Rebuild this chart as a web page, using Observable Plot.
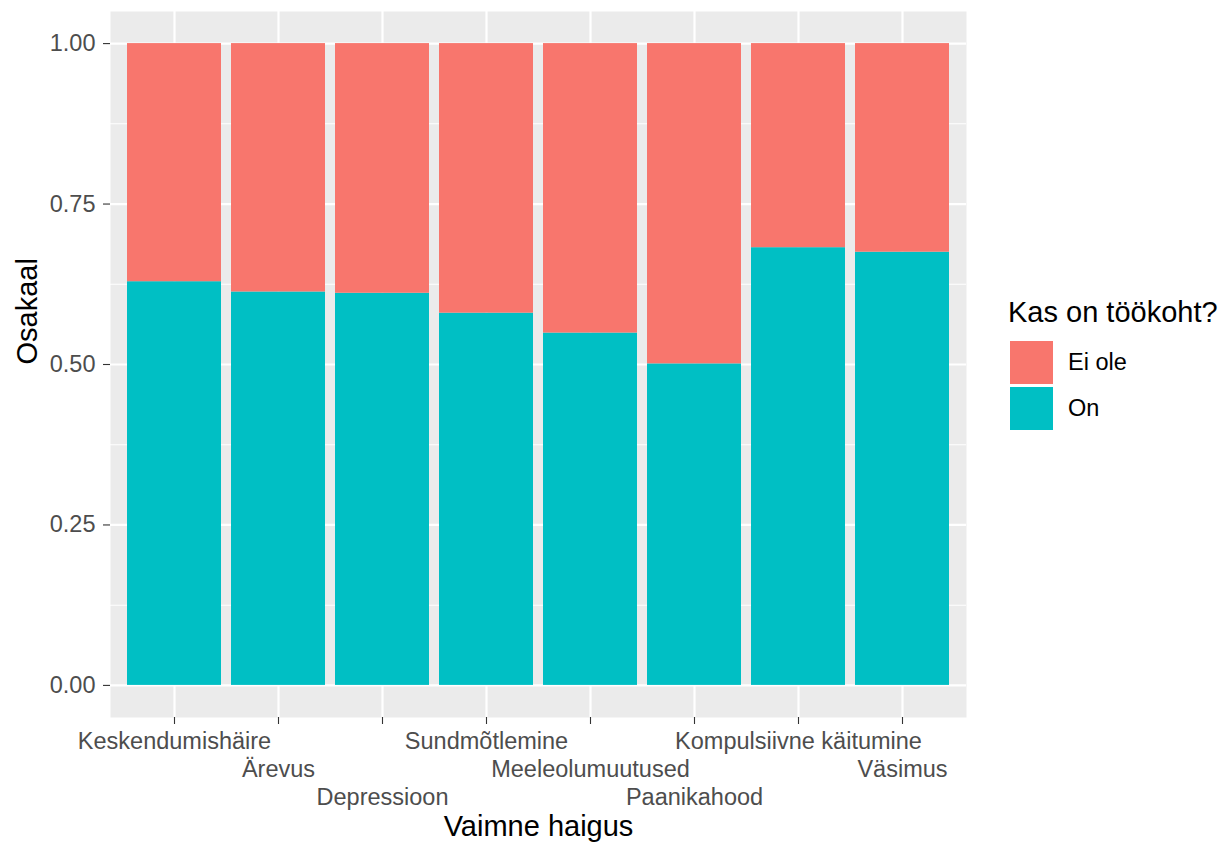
<!DOCTYPE html>
<html>
<head>
<meta charset="utf-8">
<script src="https://cdn.jsdelivr.net/npm/d3@7"></script>
<script src="https://cdn.jsdelivr.net/npm/@observablehq/plot@0.6"></script>
<style>
  body { margin: 0; background: #fff; font-family: "Liberation Sans", Arial, Helvetica, sans-serif; }
  #wrap { position: relative; width: 1224px; height: 845px; }
  #legend { position: absolute; left: 1008px; top: 295px; color: #000; }
  #legend .title { font-size: 29px; line-height: 34px; white-space: nowrap; }
  #legend .row { position: absolute; left: 0; display: flex; align-items: center; }
  #legend .key { width: 43px; height: 43px; margin-left: 2px; }
  #legend .lab { font-size: 23.5px; margin-left: 15px; white-space: nowrap; }
</style>
</head>
<body>
<div id="wrap"></div>
<script>
const categories = ["Keskendumishäire", "Ärevus", "Depressioon", "Sundmõtlemine", "Meeleolumuutused", "Paanikahood", "Kompulsiivne käitumine", "Väsimus"];
const onValues    = [0.629, 0.613, 0.611, 0.580, 0.549, 0.501, 0.682, 0.675];
const eiOleValues = [0.371, 0.387, 0.389, 0.420, 0.451, 0.499, 0.318, 0.325];
const groups = ["Ei ole", "On"];
const groupColors = ["#F8766D", "#00BFC4"];
const yTicks = [0, 0.25, 0.5, 0.75, 1];
const yMinor = [0.125, 0.375, 0.625, 0.875];
const legendTitle = "Kas on töökoht?";
const xTitle = "Vaimne haigus";
const yTitle = "Osakaal";

const data = [];
categories.forEach((c, i) => {
  data.push({haigus: c, grupp: "On", osakaal: onValues[i]});
  data.push({haigus: c, grupp: "Ei ole", osakaal: eiOleValues[i]});
});

const rows = [0, 1, 2].map(r => categories.filter((_, i) => i % 3 === r));
const tickFont = 23.5;
const titleFont = 29;

const chart = Plot.plot({
  width: 1224,
  height: 845,
  marginLeft: 110,
  marginRight: 258,
  marginTop: 11,
  marginBottom: 128,
  style: { fontFamily: '"Liberation Sans", Arial, Helvetica, sans-serif', background: "transparent", overflow: "visible" },
  x: { type: "band", domain: categories, paddingInner: 0.1, paddingOuter: 0.15, label: null },
  y: { domain: [-0.05, 1.05], label: null },
  color: { domain: groups, range: groupColors },
  marks: [
    Plot.frame({ fill: "#EBEBEB", stroke: null }),
    Plot.ruleY(yMinor, { stroke: "white", strokeWidth: 1.1 }),
    Plot.gridY(yTicks, { stroke: "white", strokeOpacity: 1, strokeWidth: 2.2 }),
    Plot.gridX({ stroke: "white", strokeOpacity: 1, strokeWidth: 2.2 }),
    Plot.barY(data, Plot.stackY({ x: "haigus", y: "osakaal", fill: "grupp", order: ["On", "Ei ole"] })),
    Plot.axisY(yTicks, {
      tickSize: 7, tickPadding: 8, tickFormat: d3.format(".2f"),
      fontSize: tickFont, fill: "#4D4D4D", stroke: "#333333", strokeWidth: 1.1, label: null
    }),
    Plot.axisX({ tickSize: 7, tickFormat: () => "", stroke: "#333333", strokeWidth: 1.1, label: null }),
    ...rows.map((r, k) => Plot.axisX(r, {
      tickSize: 0, tickPadding: 15, dy: k * 28,
      fontSize: tickFont, fill: "#4D4D4D", label: null
    })),
    Plot.text([xTitle], { frameAnchor: "bottom", dy: 118, fontSize: titleFont, fill: "black" }),
    Plot.text([yTitle], { frameAnchor: "left", dx: -83, rotate: -90, fontSize: titleFont, fill: "black" })
  ]
});

const wrap = document.getElementById("wrap");
wrap.appendChild(chart);

const legend = document.createElement("div");
legend.id = "legend";
const t = document.createElement("div");
t.className = "title";
t.textContent = legendTitle;
legend.appendChild(t);
groups.forEach((g, i) => {
  const row = document.createElement("div");
  row.className = "row";
  row.style.top = (46 + i * 46) + "px";
  const k = document.createElement("div");
  k.className = "key";
  k.style.background = groupColors[i];
  const l = document.createElement("div");
  l.className = "lab";
  l.textContent = g;
  row.appendChild(k);
  row.appendChild(l);
  legend.appendChild(row);
});
wrap.appendChild(legend);
</script>
</body>
</html>
